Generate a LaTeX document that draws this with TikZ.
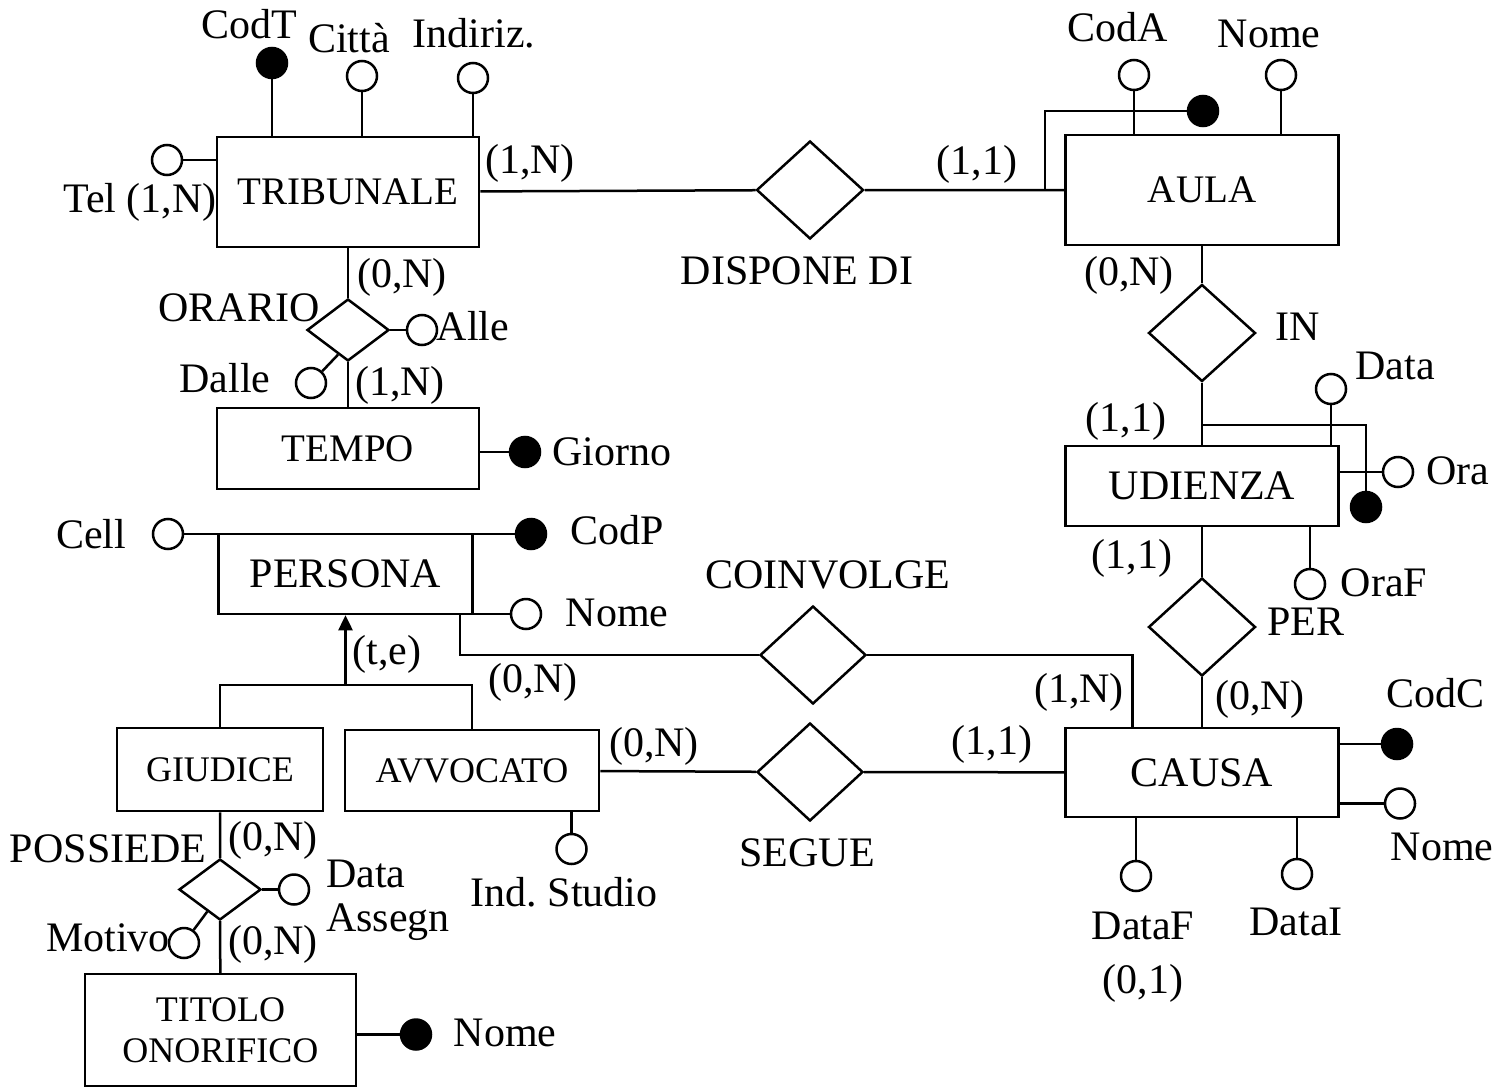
\documentclass[tikz,border=0pt]{standalone}
\usepackage{fontspec}
\setmainfont{Liberation Serif}
\usetikzlibrary{positioning, calc, shapes.geometric, arrows.meta}

\begin{document}
\begin{tikzpicture}[
  x=1pt, y=-1pt,
  line width=2.5pt,
  every node/.style={
    inner sep=0pt,
    font=\fontsize{42}{44}\selectfont,
  },
  entity/.style={draw, align=center},
  entitysm/.style={entity, font=\fontsize{39}{44}\selectfont},
  entityxs/.style={entity, font=\fontsize{36}{41}\selectfont},
  rel/.style={diamond, draw},
  attr/.style={circle, draw, fill=white, minimum size=30pt},
  keyattr/.style={attr, fill=black},
]
  \useasboundingbox (0,0) rectangle (1498,1089);

  % entita
  \node[entitysm, minimum width=262pt, minimum height=110pt] (trib) at (348,192) {TRIBUNALE};
  \node[entitysm, minimum width=262pt, minimum height=81pt] (tempo) at (348,448.5) {TEMPO};
  \node[entitysm, minimum width=273pt, minimum height=110pt] (aula) at (1202,190) {AULA};
  \node[entity, minimum width=273pt, minimum height=80pt] (udi) at (1202,486) {UDIENZA};
  \node[entity, minimum width=273pt, minimum height=89pt] (causa) at (1202,772.5) {CAUSA};
  \node[entity, minimum width=254pt, minimum height=80pt] (pers) at (345.5,574) {PERSONA};
  \node[entityxs, minimum width=206pt, minimum height=83pt] (giud) at (220,769.5) {GIUDICE};
  \node[entityxs, minimum width=254pt, minimum height=81pt] (avv) at (472,770.5) {AVVOCATO};
  \node[entityxs, minimum width=271pt, minimum height=112pt] (tit) at (220.5,1030) {TITOLO\\ONORIFICO};

  % relazioni
  \node[rel, minimum width=107pt, minimum height=98pt] (disp) at (810,190) {};
  \node[rel, minimum width=107pt, minimum height=97pt] (in) at (1202,333) {};
  \node[rel, minimum width=107pt, minimum height=98pt] (per) at (1202,627) {};
  \node[rel, minimum width=106pt, minimum height=98pt] (coin) at (813,655) {};
  \node[rel, minimum width=106pt, minimum height=98pt] (seg) at (810,772) {};
  \node[rel, minimum width=82pt, minimum height=62pt] (orario) at (348,330) {};
  \node[rel, minimum width=82pt, minimum height=61pt] (poss) at (220,889.5) {};

  % attributi
  \node[keyattr] (codt) at (272,63) {};
  \node[attr] (citta) at (362,76) {};
  \node[attr] (indir) at (473,78) {};
  \node[attr] (tel) at (167,160) {};
  \node[attr] (alle) at (422,330) {};
  \node[attr] (dalle) at (311,383) {};
  \node[keyattr] (giorno) at (525,452) {};
  \node[attr] (coda) at (1134,75) {};
  \node[attr] (nomea) at (1281,75) {};
  \node[keyattr] (kaula) at (1203,111) {};
  \node[attr] (data) at (1331,389) {};
  \node[attr] (ora) at (1398,472) {};
  \node[keyattr] (kudi) at (1366,507) {};
  \node[attr] (oraf) at (1310,584) {};
  \node[keyattr] (codc) at (1397,744) {};
  \node[attr] (nomec) at (1400,803.5) {};
  \node[attr] (dataf) at (1136,876) {};
  \node[attr] (datai) at (1297,874) {};
  \node[attr] (cell) at (168,534) {};
  \node[keyattr] (codp) at (531,534) {};
  \node[attr] (nomep) at (526,614) {};
  \node[attr] (studio) at (571.5,849) {};
  \node[attr] (assegn) at (294,889.5) {};
  \node[attr] (motivo) at (184,943) {};
  \node[keyattr] (nomet) at (416,1034.5) {};

  \coordinate (eaula) at (1045,190);
  \coordinate (eudi) at (1202,425);
  \coordinate (isa) at (345.5,685);

  % collegamenti
  \draw (codt) -- (codt |- trib.north);
  \draw (citta) -- (citta |- trib.north);
  \draw (indir) -- (indir |- trib.north);
  \draw (tel) -- (tel -| trib.west);
  \draw (trib) -- (orario) -- (tempo);
  \draw (alle) -- (orario.east);
  \draw (dalle) -- (orario.248);
  \draw (giorno) -- (giorno -| tempo.east);
  \draw (trib) -- (disp) -- (aula);
  \draw (kaula) -| (eaula);
  \draw (coda) -- (coda |- aula.north);
  \draw (nomea) -- (nomea |- aula.north);
  \draw (aula) -- (in) -- (udi) -- (per) -- (causa);
  \draw (eudi) -| (kudi);
  \draw (data) -- (data |- udi.north);
  \draw (ora) -- (ora -| udi.east);
  \draw (oraf) -- (oraf |- udi.south);
  \draw (codc) -- (codc -| causa.east);
  \draw (nomec) -- (nomec -| causa.east);
  \draw (dataf) -- (dataf |- causa.south);
  \draw (datai) -- (datai |- causa.south);
  \draw (cell) -- (cell -| pers.west);
  \draw (codp) -- (codp -| pers.east);
  \draw (nomep) -- (nomep -| pers.east);
  \draw ([xshift=-14pt]pers.south east) |- (coin);
  \draw (coin) -| ([xshift=68pt]causa.north west);
  \draw (avv) -- (seg) -- (causa);
  \draw (studio) -- (studio |- avv.south);
  \draw[-{Triangle[length=15pt, width=14pt]}] (isa) -- (pers.south);
  \draw (giud.north) |- (isa) -| (avv.north);
  \draw (giud) -- (poss) -- (tit);
  \draw (assegn) -- (poss.east);
  \draw (motivo) -- (poss.240);
  \draw (nomet) -- (nomet -| tit.east);

  % etichette
  \node (lcodt) at (249,24) {CodT};
  \node (lcitta) at (349,38) {Città};
  \node (lindir) at (474,33) {Indiriz.};
  \node (ltel) at (140,202) {Tel (1,N)};
  \node (ctrib) at (530,163) {(1,N)};
  \node (ctribor) at (402,277) {(0,N)};
  \node (lorario) at (239,308) {ORARIO};
  \node (lalle) at (473,326) {Alle};
  \node (ldalle) at (225,378) {Dalle};
  \node (ctempo) at (400,385) {(1,N)};
  \node (lgiorno) at (612,452) {Giorno};
  \node (ldisp) at (797,271) {DISPONE DI};
  \node (caula) at (977,164) {(1,1)};
  \node (lcoda) at (1118,27) {CodA};
  \node (lnomea) at (1269,34) {Nome};
  \node (caulain) at (1129,275) {(0,N)};
  \node (lin) at (1298,327) {IN};
  \node (cudiin) at (1126,421) {(1,1)};
  \node (ldata) at (1395,366) {Data};
  \node (lora) at (1458,471) {Ora};
  \node (cudiper) at (1132,558) {(1,1)};
  \node (loraf) at (1384,583) {OraF};
  \node (lper) at (1306,622) {PER};
  \node (ccausaper) at (1260,699) {(0,N)};
  \node (lcodc) at (1435,693) {CodC};
  \node (lnomec) at (1442,847) {Nome};
  \node (ldataf) at (1143,926) {DataF};
  \node (cdataf) at (1143,983) {(0,1)};
  \node (ldatai) at (1296,922) {DataI};
  \node (lcoin) at (828,575) {COINVOLGE};
  \node (ccausacoin) at (1079,692) {(1,N)};
  \node (ccausaseg) at (992,744) {(1,1)};
  \node (lseg) at (807,853) {SEGUE};
  \node (lcell) at (91,534) {Cell};
  \node (lcodp) at (617,530) {CodP};
  \node (lnomep) at (617,613) {Nome};
  \node (lte) at (387,654) {(t,e)};
  \node (cperscoin) at (533,682) {(0,N)};
  \node (cavvseg) at (654,746) {(0,N)};
  \node (lstudio) at (564,892) {Ind.\ Studio};
  \node (lposs) at (108,849) {POSSIEDE};
  \node (cgiud) at (273,840) {(0,N)};
  \node[align=left, anchor=west] (lassegn) at (325,900) {Data\\Assegn};
  \node (lmotivo) at (108,938) {Motivo};
  \node (ctit) at (273,944) {(0,N)};
  \node (lnomet) at (505,1033) {Nome};
\end{tikzpicture}
\end{document}
